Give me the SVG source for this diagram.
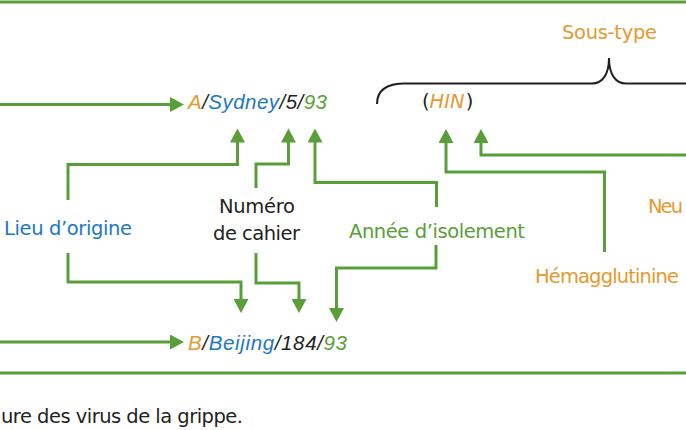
<svg xmlns="http://www.w3.org/2000/svg" width="686" height="430" viewBox="0 0 686 430">
<style>
text{font-family:"DejaVu Sans","Liberation Sans",sans-serif;}
.lbl{font-size:19.5px;}
.code{font-family:"Liberation Sans","DejaVu Sans",sans-serif;font-size:20.5px;font-style:italic;}
.g{fill:#5A9E3A;}
.b{fill:#1E78BE;}
.o{fill:#E49A2E;}
.k{fill:#231F20;}
.con{fill:none;stroke:#5A9E3A;stroke-width:3;marker-end:url(#ah);}
.rule{fill:none;stroke:#5A9E3A;stroke-width:3;}
.brace{fill:none;stroke:#231F20;stroke-width:2;}
</style>
<defs>
<marker id="ah" markerUnits="userSpaceOnUse" markerWidth="15" markerHeight="15" refX="2" refY="7.5" orient="auto">
<path d="M0,0 L14,7.5 L0,15 Z" fill="#5A9E3A"/>
</marker>
</defs>
<rect width="686" height="430" fill="#ffffff"/>
<g id="frame">
<line class="rule" x1="0" y1="2" x2="686" y2="2"/>
<line class="rule" x1="0" y1="373" x2="686" y2="373"/>
</g>
<g id="connectors">
<path class="con" d="M0 104.5 H172"/>
<path class="con" d="M0 342 H172"/>
<path class="con" d="M68 200 V164.5 H237.5 V140.5"/>
<path class="con" d="M256 188 V164 H288.5 V140.5"/>
<path class="con" d="M436.5 207 V182.5 H315 V140.5"/>
<path class="con" d="M68 253 V282 H241 V301"/>
<path class="con" d="M256 253 V283 H299 V301"/>
<path class="con" d="M436 245 V268 H336.5 V310"/>
<path class="con" d="M604.5 252 V172 H446 V141"/>
<path class="con" d="M686 155 H481 V141"/>
</g>
<g id="code-a">
<text class="code" x="188" y="109" textLength="139"><tspan class="o">A</tspan><tspan class="k">/</tspan><tspan class="b">Sydney</tspan><tspan class="k">/5/</tspan><tspan class="g">93</tspan></text>
</g>
<g id="code-b">
<text class="code" x="188" y="350" textLength="159"><tspan class="o">B</tspan><tspan class="k">/</tspan><tspan class="b">Beijing</tspan><tspan class="k">/184/</tspan><tspan class="g">93</tspan></text>
</g>
<g id="sous-type">
<path class="brace" d="M377 104 C377 90 386 83.5 405 83.5 H592 C602 83.5 609 75 609 58 C609 75 616 83.5 626 83.5 H686"/>
<text class="lbl o" x="562" y="39" textLength="95">Sous-type</text>
</g>
<g id="hin">
<text x="422" y="108" font-family="Liberation Sans, DejaVu Sans, sans-serif" font-size="19.5"><tspan class="k">(</tspan><tspan class="o" font-style="italic">HIN</tspan><tspan class="k" dx="1">)</tspan></text>
</g>
<g id="lieu">
<text class="lbl b" x="4" y="235" textLength="128">Lieu d’origine</text>
</g>
<g id="numero">
<text class="lbl k" x="219" y="213" textLength="76">Numéro</text>
<text class="lbl k" x="213" y="240" textLength="87">de cahier</text>
</g>
<g id="annee">
<text class="lbl g" x="349" y="238" textLength="176">Année d’isolement</text>
</g>
<g id="hemagglutinine">
<text class="lbl o" x="535" y="283" textLength="144">Hémagglutinine</text>
</g>
<g id="neuraminidase">
<text class="lbl o" x="648" y="213" textLength="35">Neu</text>
</g>
<g id="caption">
<text class="k" x="1" y="423" font-size="19.5" textLength="242">ure des virus de la grippe.</text>
</g>
</svg>
